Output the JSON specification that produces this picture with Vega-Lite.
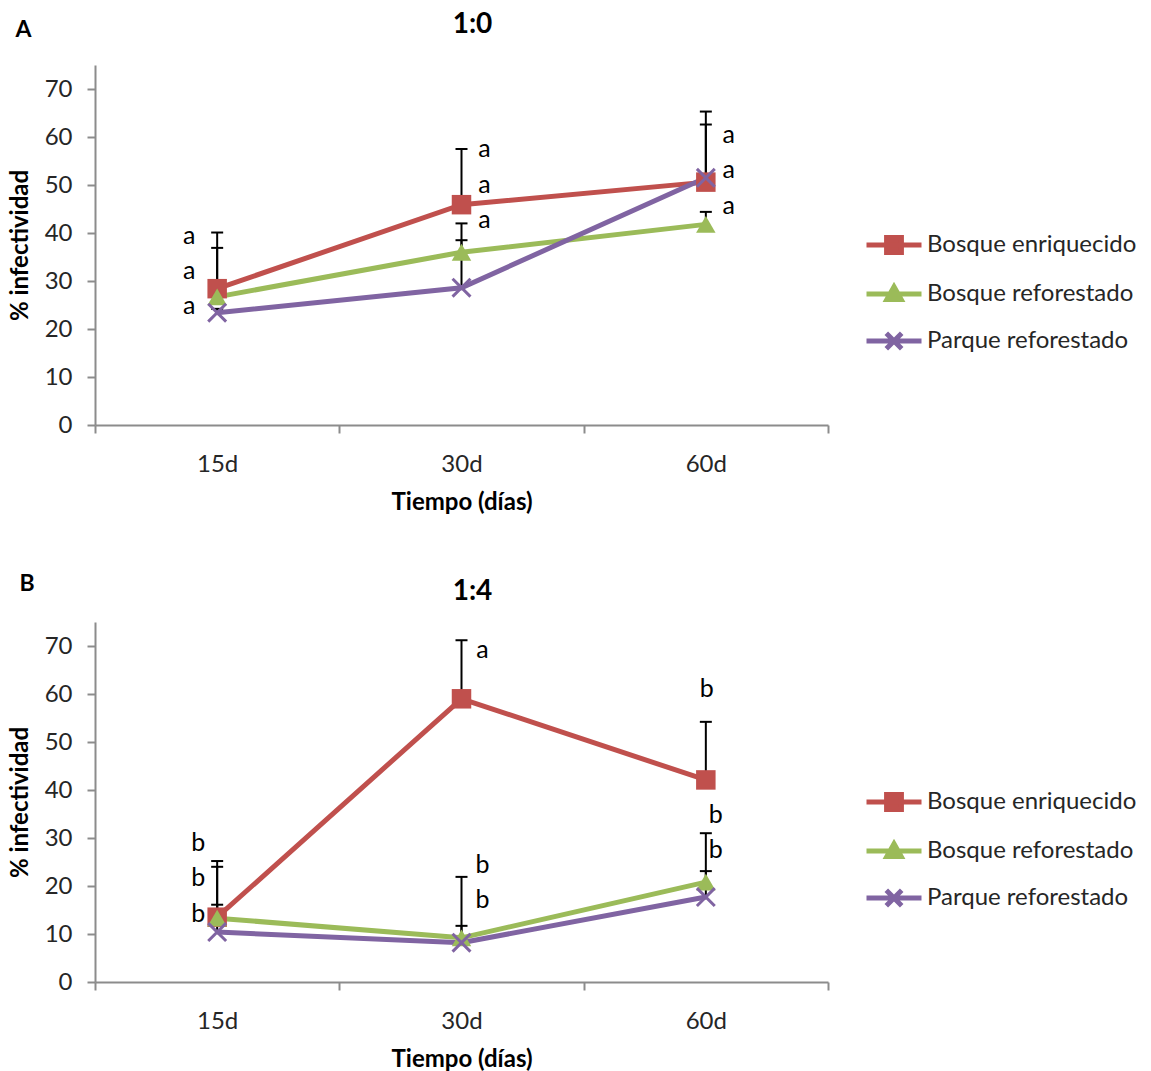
{
  "$schema": "https://vega.github.io/schema/vega-lite/v6.json",
  "background": "white",
  "padding": {"left": 8, "top": 10, "right": 5, "bottom": 0},
  "config": {
    "font": "Lato",
    "view": {"stroke": null},
    "axis": {
      "domainColor": "#8c8c8c",
      "domainWidth": 2,
      "tickColor": "#8c8c8c",
      "tickWidth": 2,
      "tickSize": 8,
      "labelFont": "Lato",
      "labelFontSize": 24,
      "labelColor": "#262626",
      "titleFont": "Lato",
      "titleFontSize": 24,
      "titleFontWeight": "bold",
      "titleColor": "#000000",
      "grid": false
    },
    "legend": {"labelFont": "Lato", "labelFontSize": 24, "labelColor": "#262626", "labelLimit": 400}
  },
  "datasets": {
    "series": [
      {"panel": "A", "tiempo": "15d", "serie": "Bosque enriquecido", "valor": 28.4, "sup": 40.1},
      {"panel": "A", "tiempo": "15d", "serie": "Bosque reforestado", "valor": 26.7, "sup": 36.9},
      {"panel": "A", "tiempo": "15d", "serie": "Parque reforestado", "valor": 23.4, "sup": 24.2},
      {"panel": "A", "tiempo": "30d", "serie": "Bosque enriquecido", "valor": 45.9, "sup": 57.5},
      {"panel": "A", "tiempo": "30d", "serie": "Bosque reforestado", "valor": 36.0, "sup": 42.0},
      {"panel": "A", "tiempo": "30d", "serie": "Parque reforestado", "valor": 28.6, "sup": 38.5},
      {"panel": "A", "tiempo": "60d", "serie": "Bosque enriquecido", "valor": 50.6, "sup": 62.6},
      {"panel": "A", "tiempo": "60d", "serie": "Bosque reforestado", "valor": 41.8, "sup": 44.4},
      {"panel": "A", "tiempo": "60d", "serie": "Parque reforestado", "valor": 51.5, "sup": 65.3},
      {"panel": "B", "tiempo": "15d", "serie": "Bosque enriquecido", "valor": 13.5, "sup": 25.2},
      {"panel": "B", "tiempo": "15d", "serie": "Bosque reforestado", "valor": 13.3, "sup": 24.0},
      {"panel": "B", "tiempo": "15d", "serie": "Parque reforestado", "valor": 10.4, "sup": 16.1},
      {"panel": "B", "tiempo": "30d", "serie": "Bosque enriquecido", "valor": 59.0, "sup": 71.2},
      {"panel": "B", "tiempo": "30d", "serie": "Bosque reforestado", "valor": 9.2, "sup": 21.9},
      {"panel": "B", "tiempo": "30d", "serie": "Parque reforestado", "valor": 8.2, "sup": 11.7},
      {"panel": "B", "tiempo": "60d", "serie": "Bosque enriquecido", "valor": 42.1, "sup": 54.2},
      {"panel": "B", "tiempo": "60d", "serie": "Bosque reforestado", "valor": 20.8, "sup": 31.0},
      {"panel": "B", "tiempo": "60d", "serie": "Parque reforestado", "valor": 17.7, "sup": 23.1}
    ],
    "letras": [
      {"panel": "A", "tiempo": "15d", "lado": "izq", "y": 39.4, "letra": "a"},
      {"panel": "A", "tiempo": "15d", "lado": "izq", "y": 32.1, "letra": "a"},
      {"panel": "A", "tiempo": "15d", "lado": "izq", "y": 24.8, "letra": "a"},
      {"panel": "A", "tiempo": "30d", "lado": "der", "y": 57.4, "letra": "a"},
      {"panel": "A", "tiempo": "30d", "lado": "der", "y": 50.1, "letra": "a"},
      {"panel": "A", "tiempo": "30d", "lado": "der", "y": 42.8, "letra": "a"},
      {"panel": "A", "tiempo": "60d", "lado": "der", "y": 60.5, "letra": "a"},
      {"panel": "A", "tiempo": "60d", "lado": "der", "y": 53.2, "letra": "a"},
      {"panel": "A", "tiempo": "60d", "lado": "der", "y": 45.6, "letra": "a"},
      {"panel": "B", "tiempo": "15d", "lado": "izq2", "y": 29.0, "letra": "b"},
      {"panel": "B", "tiempo": "15d", "lado": "izq2", "y": 21.7, "letra": "b"},
      {"panel": "B", "tiempo": "15d", "lado": "izq2", "y": 14.2, "letra": "b"},
      {"panel": "B", "tiempo": "30d", "lado": "der2", "y": 69.1, "letra": "a"},
      {"panel": "B", "tiempo": "30d", "lado": "der2", "y": 24.3, "letra": "b"},
      {"panel": "B", "tiempo": "30d", "lado": "der2", "y": 17.0, "letra": "b"},
      {"panel": "B", "tiempo": "60d", "lado": "centro", "y": 61.1, "letra": "b"},
      {"panel": "B", "tiempo": "60d", "lado": "cerca", "y": 34.7, "letra": "b"},
      {"panel": "B", "tiempo": "60d", "lado": "cerca", "y": 27.4, "letra": "b"}
    ]
  },
  "spacing": 58,
  "resolve": {"legend": {"color": "independent"}},
  "vconcat": [
    {
      "width": 733,
      "height": 360,
      "resolve": {"axis": {"x": "independent", "y": "independent"}},
      "layer": [
        {
          "data": {"name": "series"},
          "transform": [{"filter": "datum.panel === 'A'"}],
          "mark": {"type": "rule", "color": "#000000", "strokeWidth": 2},
          "encoding": {
            "x": {"field": "tiempo", "type": "nominal", "bandPosition": 0.5, "scale": {"type": "band", "paddingInner": 0, "paddingOuter": 0},
              "axis": {"title": "Tiempo (días)", "labelAngle": 0, "tickBand": "extent", "labelPadding": 19, "titlePadding": 14}},
            "y": {"field": "valor", "type": "quantitative", "scale": {"domain": [0, 75], "nice": false},
              "axis": {"title": "% infectividad", "values": [0, 10, 20, 30, 40, 50, 60, 70], "labelPadding": 15, "titlePadding": 12}},
            "y2": {"field": "sup"}
          }
        },
        {
          "data": {"name": "series"},
          "transform": [{"filter": "datum.panel === 'A'"}],
          "mark": {"type": "tick", "color": "#000000", "thickness": 2, "size": 12, "orient": "horizontal", "opacity": 1},
          "encoding": {
            "x": {"field": "tiempo", "type": "nominal", "bandPosition": 0.5,
              "axis": {"orient": "top", "title": "A", "labels": false, "ticks": false, "domain": false,
                "titleX": -80, "titleY": -29, "titleAlign": "left", "titleBaseline": "alphabetic", "titleAngle": 0, "titleFontSize": 23}},
            "y": {"field": "sup", "type": "quantitative",
              "axis": {"orient": "right", "title": "1:0", "labels": false, "ticks": false, "domain": false,
                "titleX": -356, "titleY": -33, "titleAlign": "center", "titleBaseline": "alphabetic", "titleAngle": 0, "titleFontSize": 28}}
          }
        },
        {
          "data": {"name": "series"},
          "transform": [{"filter": "datum.panel === 'A'"}],
          "mark": {"type": "line", "strokeWidth": 5},
          "encoding": {
            "x": {"field": "tiempo", "type": "nominal", "bandPosition": 0.5, "axis": null},
            "y": {"field": "valor", "type": "quantitative", "axis": null},
            "color": {"field": "serie", "type": "nominal",
              "scale": {"domain": ["Bosque enriquecido", "Bosque reforestado", "Parque reforestado"], "range": ["#C0504D", "#9BBB59", "#8064A2"]},
              "legend": {"title": null, "orient": "none", "legendX": 769, "legendY": 150, "symbolSize": 3025, "symbolStrokeWidth": 5, "labelOffset": 3, "rowPadding": 1,
                "encode": {"symbols": {"update": {
                  "shape": {"signal": "datum.value === 'Bosque enriquecido' ? 'M-1,0H1M-0.27,-0.27H0.27V0.27H-0.27Z' : (datum.value === 'Bosque reforestado' ? 'M-1,0H1M0,-0.26L0.26,0.2H-0.26Z' : 'M-1,0H1M-0.28,-0.28L0.28,0.28M0.28,-0.28L-0.28,0.28')"},
                  "fill": {"signal": "datum.value === 'Bosque enriquecido' ? '#C0504D' : (datum.value === 'Bosque reforestado' ? '#9BBB59' : '#8064A2')"},
                  "stroke": {"signal": "datum.value === 'Bosque enriquecido' ? '#C0504D' : (datum.value === 'Bosque reforestado' ? '#9BBB59' : '#8064A2')"},
                  "opacity": {"value": 1}
                }}}}
            }
          }
        },
        {
          "data": {"name": "series"},
          "transform": [{"filter": "datum.panel === 'A' && datum.serie !== 'Parque reforestado'"}],
          "mark": {"type": "point", "filled": true, "size": 380, "opacity": 1},
          "encoding": {
            "x": {"field": "tiempo", "type": "nominal", "bandPosition": 0.5, "axis": null},
            "y": {"field": "valor", "type": "quantitative", "axis": null},
            "fill": {"field": "serie", "type": "nominal", "legend": null,
              "scale": {"domain": ["Bosque enriquecido", "Bosque reforestado", "Parque reforestado"], "range": ["#C0504D", "#9BBB59", "#8064A2"]}},
            "shape": {"field": "serie", "type": "nominal", "legend": null,
              "scale": {"domain": ["Bosque enriquecido", "Bosque reforestado", "Parque reforestado"], "range": ["square", "triangle-up", "M-1,-1L1,1M1,-1L-1,1"]}}
          }
        },
        {
          "data": {"name": "series"},
          "transform": [{"filter": "datum.panel === 'A' && datum.serie === 'Parque reforestado'"}],
          "mark": {"type": "point", "filled": false, "size": 320, "strokeWidth": 3, "opacity": 1},
          "encoding": {
            "x": {"field": "tiempo", "type": "nominal", "bandPosition": 0.5, "axis": null},
            "y": {"field": "valor", "type": "quantitative", "axis": null},
            "stroke": {"field": "serie", "type": "nominal", "legend": null,
              "scale": {"domain": ["Bosque enriquecido", "Bosque reforestado", "Parque reforestado"], "range": ["#C0504D", "#9BBB59", "#8064A2"]}},
            "shape": {"field": "serie", "type": "nominal", "legend": null}
          }
        },
        {
          "data": {"name": "letras"},
          "transform": [{"filter": "datum.panel === 'A' && datum.lado === 'izq'"}],
          "mark": {"type": "text", "fontSize": 25, "color": "#000000", "dx": -28, "baseline": "middle"},
          "encoding": {
            "x": {"field": "tiempo", "type": "nominal", "bandPosition": 0.5, "axis": null},
            "y": {"field": "y", "type": "quantitative", "axis": null},
            "text": {"field": "letra"}
          }
        },
        {
          "data": {"name": "letras"},
          "transform": [{"filter": "datum.panel === 'A' && datum.lado === 'der'"}],
          "mark": {"type": "text", "fontSize": 25, "color": "#000000", "dx": 23, "baseline": "middle"},
          "encoding": {
            "x": {"field": "tiempo", "type": "nominal", "bandPosition": 0.5, "axis": null},
            "y": {"field": "y", "type": "quantitative", "axis": null},
            "text": {"field": "letra"}
          }
        }
      ]
    },
    {
      "width": 733,
      "height": 360,
      "resolve": {"axis": {"x": "independent", "y": "independent"}},
      "layer": [
        {
          "data": {"name": "series"},
          "transform": [{"filter": "datum.panel === 'B'"}],
          "mark": {"type": "rule", "color": "#000000", "strokeWidth": 2},
          "encoding": {
            "x": {"field": "tiempo", "type": "nominal", "bandPosition": 0.5, "scale": {"type": "band", "paddingInner": 0, "paddingOuter": 0},
              "axis": {"title": "Tiempo (días)", "labelAngle": 0, "tickBand": "extent", "labelPadding": 19, "titlePadding": 14}},
            "y": {"field": "valor", "type": "quantitative", "scale": {"domain": [0, 75], "nice": false},
              "axis": {"title": "% infectividad", "values": [0, 10, 20, 30, 40, 50, 60, 70], "labelPadding": 15, "titlePadding": 12}},
            "y2": {"field": "sup"}
          }
        },
        {
          "data": {"name": "series"},
          "transform": [{"filter": "datum.panel === 'B'"}],
          "mark": {"type": "tick", "color": "#000000", "thickness": 2, "size": 12, "orient": "horizontal", "opacity": 1},
          "encoding": {
            "x": {"field": "tiempo", "type": "nominal", "bandPosition": 0.5,
              "axis": {"orient": "top", "title": "B", "labels": false, "ticks": false, "domain": false,
                "titleX": -76, "titleY": -32, "titleAlign": "left", "titleBaseline": "alphabetic", "titleAngle": 0, "titleFontSize": 23}},
            "y": {"field": "sup", "type": "quantitative",
              "axis": {"orient": "right", "title": "1:4", "labels": false, "ticks": false, "domain": false,
                "titleX": -356, "titleY": -23, "titleAlign": "center", "titleBaseline": "alphabetic", "titleAngle": 0, "titleFontSize": 28}}
          }
        },
        {
          "data": {"name": "series"},
          "transform": [{"filter": "datum.panel === 'B'"}],
          "mark": {"type": "line", "strokeWidth": 5},
          "encoding": {
            "x": {"field": "tiempo", "type": "nominal", "bandPosition": 0.5, "axis": null},
            "y": {"field": "valor", "type": "quantitative", "axis": null},
            "color": {"field": "serie", "type": "nominal",
              "scale": {"domain": ["Bosque enriquecido", "Bosque reforestado", "Parque reforestado"], "range": ["#C0504D", "#9BBB59", "#8064A2"]},
              "legend": {"title": null, "orient": "none", "legendX": 769, "legendY": 150, "symbolSize": 3025, "symbolStrokeWidth": 5, "labelOffset": 3, "rowPadding": 1,
                "encode": {"symbols": {"update": {
                  "shape": {"signal": "datum.value === 'Bosque enriquecido' ? 'M-1,0H1M-0.27,-0.27H0.27V0.27H-0.27Z' : (datum.value === 'Bosque reforestado' ? 'M-1,0H1M0,-0.26L0.26,0.2H-0.26Z' : 'M-1,0H1M-0.28,-0.28L0.28,0.28M0.28,-0.28L-0.28,0.28')"},
                  "fill": {"signal": "datum.value === 'Bosque enriquecido' ? '#C0504D' : (datum.value === 'Bosque reforestado' ? '#9BBB59' : '#8064A2')"},
                  "stroke": {"signal": "datum.value === 'Bosque enriquecido' ? '#C0504D' : (datum.value === 'Bosque reforestado' ? '#9BBB59' : '#8064A2')"},
                  "opacity": {"value": 1}
                }}}}
            }
          }
        },
        {
          "data": {"name": "series"},
          "transform": [{"filter": "datum.panel === 'B' && datum.serie !== 'Parque reforestado'"}],
          "mark": {"type": "point", "filled": true, "size": 380, "opacity": 1},
          "encoding": {
            "x": {"field": "tiempo", "type": "nominal", "bandPosition": 0.5, "axis": null},
            "y": {"field": "valor", "type": "quantitative", "axis": null},
            "fill": {"field": "serie", "type": "nominal", "legend": null,
              "scale": {"domain": ["Bosque enriquecido", "Bosque reforestado", "Parque reforestado"], "range": ["#C0504D", "#9BBB59", "#8064A2"]}},
            "shape": {"field": "serie", "type": "nominal", "legend": null,
              "scale": {"domain": ["Bosque enriquecido", "Bosque reforestado", "Parque reforestado"], "range": ["square", "triangle-up", "M-1,-1L1,1M1,-1L-1,1"]}}
          }
        },
        {
          "data": {"name": "series"},
          "transform": [{"filter": "datum.panel === 'B' && datum.serie === 'Parque reforestado'"}],
          "mark": {"type": "point", "filled": false, "size": 320, "strokeWidth": 3, "opacity": 1},
          "encoding": {
            "x": {"field": "tiempo", "type": "nominal", "bandPosition": 0.5, "axis": null},
            "y": {"field": "valor", "type": "quantitative", "axis": null},
            "stroke": {"field": "serie", "type": "nominal", "legend": null,
              "scale": {"domain": ["Bosque enriquecido", "Bosque reforestado", "Parque reforestado"], "range": ["#C0504D", "#9BBB59", "#8064A2"]}},
            "shape": {"field": "serie", "type": "nominal", "legend": null}
          }
        },
        {
          "data": {"name": "letras"},
          "transform": [{"filter": "datum.panel === 'B' && datum.lado === 'izq2'"}],
          "mark": {"type": "text", "fontSize": 25, "color": "#000000", "dx": -19, "baseline": "middle"},
          "encoding": {
            "x": {"field": "tiempo", "type": "nominal", "bandPosition": 0.5, "axis": null},
            "y": {"field": "y", "type": "quantitative", "axis": null},
            "text": {"field": "letra"}
          }
        },
        {
          "data": {"name": "letras"},
          "transform": [{"filter": "datum.panel === 'B' && datum.lado === 'der2'"}],
          "mark": {"type": "text", "fontSize": 25, "color": "#000000", "dx": 21, "baseline": "middle"},
          "encoding": {
            "x": {"field": "tiempo", "type": "nominal", "bandPosition": 0.5, "axis": null},
            "y": {"field": "y", "type": "quantitative", "axis": null},
            "text": {"field": "letra"}
          }
        },
        {
          "data": {"name": "letras"},
          "transform": [{"filter": "datum.panel === 'B' && datum.lado === 'centro'"}],
          "mark": {"type": "text", "fontSize": 25, "color": "#000000", "dx": 1, "baseline": "middle"},
          "encoding": {
            "x": {"field": "tiempo", "type": "nominal", "bandPosition": 0.5, "axis": null},
            "y": {"field": "y", "type": "quantitative", "axis": null},
            "text": {"field": "letra"}
          }
        },
        {
          "data": {"name": "letras"},
          "transform": [{"filter": "datum.panel === 'B' && datum.lado === 'cerca'"}],
          "mark": {"type": "text", "fontSize": 25, "color": "#000000", "dx": 10, "baseline": "middle"},
          "encoding": {
            "x": {"field": "tiempo", "type": "nominal", "bandPosition": 0.5, "axis": null},
            "y": {"field": "y", "type": "quantitative", "axis": null},
            "text": {"field": "letra"}
          }
        }
      ]
    }
  ]
}
